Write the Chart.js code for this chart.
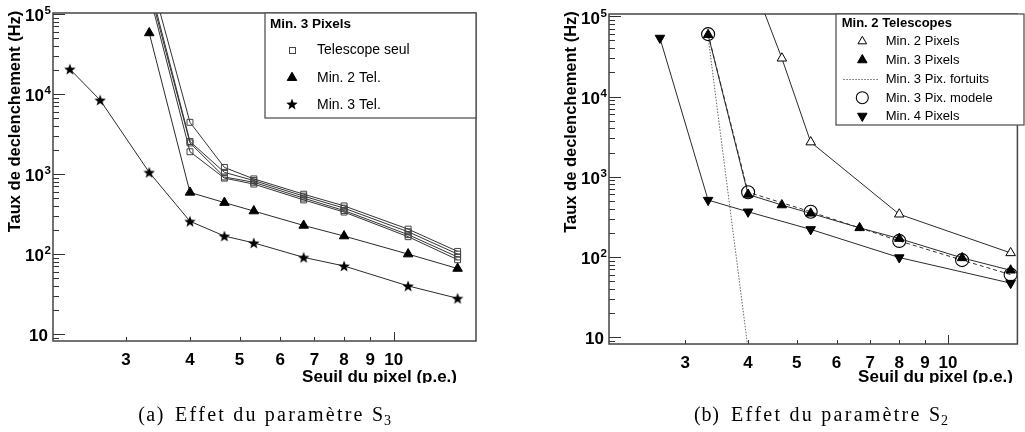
<!DOCTYPE html>
<html>
<head>
<meta charset="utf-8">
<title>Taux de declenchement</title>
<script src="https://cdn.jsdelivr.net/npm/chart.js@4/dist/chart.umd.min.js"></script>
<style>
  html, body { margin: 0; padding: 0; background: #fff; }
  #wrap { position: relative; width: 1025px; height: 432px; overflow: hidden; }
  canvas { position: absolute; top: 0; }
  #ca { left: 0; }
  #cb { left: 512px; }
</style>
</head>
<body>
<div id="wrap">
  <canvas id="ca" width="512" height="432"></canvas>
  <canvas id="cb" width="513" height="432"></canvas>
</div>
<script>
// ---------- axis ticks ----------
const xTickValues = [3, 4, 5, 6, 7, 8, 9, 10];
const yTickValues = [10, 100, 1000, 10000, 100000];

// ---------- panel (a): Min. 3 Pixels ----------
const aThrAll   = [2.33, 2.67, 3.33, 4, 4.67, 5.33, 6.67, 8, 10.67, 13.33];
const aThrFrom3 = [3.33, 4, 4.67, 5.33, 6.67, 8, 10.67, 13.33];
const aMin3Tel  = [20500, 8400, 1050, 257, 168, 138, 91, 71, 40, 28];
const aMin2Tel  = [58000, 590, 440, 345, 228, 168, 100, 66];
const aSeulA    = [330000, 4430, 1210, 870, 560, 400, 205, 108];
const aSeulB    = [240000, 2550, 1050, 830, 530, 375, 190, 100];
const aSeulC    = [210000, 2450, 920, 790, 500, 350, 175, 92];
const aSeulD    = [180000, 1900, 890, 750, 475, 335, 165, 85];
const aLegendTitle = 'Min. 3 Pixels';
const aLegend   = ['Telescope seul', 'Min. 2 Tel.', 'Min. 3 Tel.'];

// ---------- panel (b): Min. 2 Telescopes ----------
const bMin2PixX   = [4, 4.67, 5.33, 8, 13.33];
const bMin2Pix    = [380000, 30000, 2700, 340, 112];
const bMin3PixX   = [3.33, 4, 4.67, 5.33, 6.67, 8, 10.67, 13.33];
const bMin3Pix    = [59000, 600, 443, 349, 230, 169, 97, 68];
const bFortuitsX  = [3.33, 4];
const bFortuits   = [55000, 7];
const bModeleX    = [3.33, 4, 5.33, 8, 10.67, 13.33];
const bModele     = [60000, 640, 365, 158, 91, 60];
const bMin4PixX   = [2.67, 3.33, 4, 5.33, 8, 13.33];
const bMin4Pix    = [53700, 510, 365, 220, 98, 47];
const bLegendTitle = 'Min. 2 Telescopes';
const bLegend     = ['Min. 2 Pixels', 'Min. 3 Pixels', 'Min. 3 Pix. fortuits', 'Min. 3 Pix. modele', 'Min. 4 Pixels'];

const yTitle = 'Taux de declenchement (Hz)';
const xTitle = 'Seuil du pixel (p.e.)';
const captionA = ['(a)', 'Effet du paramètre S', '3'];
const captionB = ['(b)', 'Effet du paramètre S', '2'];

// ---------- helpers ----------
const SANS = "'Liberation Sans', Arial, Helvetica, sans-serif";
const SERIF = "'Liberation Serif', 'Times New Roman', serif";
const pts = (xs, ys) => xs.map((x, i) => ({ x, y: ys[i] }));

function starImage(size) {
  const c = document.createElement('canvas');
  c.width = c.height = size;
  const g = c.getContext('2d');
  const R = size / 2, r = R * 0.42, cx = size / 2, cy = size / 2 + 0.6;
  g.fillStyle = '#000';
  g.beginPath();
  for (let i = 0; i < 10; i++) {
    const ang = -Math.PI / 2 + i * Math.PI / 5;
    const rr = i % 2 ? r : R;
    g.lineTo(cx + rr * Math.cos(ang), cy + rr * Math.sin(ang));
  }
  g.closePath();
  g.fill();
  return c;
}
const STAR = starImage(12);

// legend marker shapes
function triPath(ctx, x, y, r, down) {
  const s = down ? -1 : 1;
  ctx.beginPath();
  ctx.moveTo(x, y - s * r);
  ctx.lineTo(x + r * 0.866, y + s * r * 0.5);
  ctx.lineTo(x - r * 0.866, y + s * r * 0.5);
  ctx.closePath();
}
function drawMark(ctx, kind, x, y) {
  ctx.save();
  ctx.lineWidth = 1;
  ctx.strokeStyle = '#000';
  ctx.fillStyle = '#000';
  switch (kind) {
    case 'square':
      ctx.strokeStyle = '#444';
      ctx.strokeRect(Math.round(x - 3) + 0.5, Math.round(y - 3) + 0.5, 6, 6);
      break;
    case 'tri':
      triPath(ctx, x, y, 5.5, false); ctx.fill(); ctx.stroke();
      break;
    case 'triOpen':
      triPath(ctx, x, y, 5, false); ctx.fillStyle = '#fff'; ctx.fill(); ctx.stroke();
      break;
    case 'triDown':
      triPath(ctx, x, y, 5.5, true); ctx.fill(); ctx.stroke();
      break;
    case 'star':
      ctx.drawImage(STAR, Math.round(x - 6), Math.round(y - 6));
      break;
    case 'circle':
      ctx.beginPath(); ctx.arc(x, y, 6, 0, Math.PI * 2); ctx.lineWidth = 1.1; ctx.stroke();
      break;
    case 'dotted':
      ctx.strokeStyle = '#666';
      ctx.setLineDash([1.5, 1.5]);
      ctx.beginPath(); ctx.moveTo(x - 19, Math.round(y) + 0.5); ctx.lineTo(x + 17, Math.round(y) + 0.5); ctx.stroke();
      break;
  }
  ctx.restore();
}

// draws s so that it spans x0..x1, spreading the letters evenly
function spacedText(ctx, s, x0, x1, y) {
  const chars = [...s];
  const ws = chars.map(ch => ctx.measureText(ch).width);
  const nat = ws.reduce((p, c) => p + c, 0);
  const sp = chars.length > 1 ? Math.max(0, (x1 - x0 - nat) / (chars.length - 1)) : 0;
  let x = x0;
  chars.forEach((ch, i) => { ctx.fillText(ch, x, y); x += ws[i] + sp; });
}

// frame, inward ticks, decade labels, titles, legend box and caption
const deco = {
  id: 'deco',
  afterDraw(chart, args, o) {
    const ctx = chart.ctx, a = chart.chartArea;
    const xs = chart.scales.x, ys = chart.scales.y;
    ctx.save();

    // y ticks: decades long, 2..9 short, pointing into the plot
    ctx.strokeStyle = '#333';
    ctx.lineWidth = 1;
    ctx.beginPath();
    for (let d = 1; d <= 1e6; d *= 10) {
      for (let m = 1; m <= 9; m++) {
        const v = m * d;
        if (v < ys.min || v > ys.max) continue;
        const y = Math.round(ys.getPixelForValue(v)) + 0.5;
        const len = m === 1 ? 12 : 6;
        ctx.moveTo(a.left, y); ctx.lineTo(a.left + len, y);
      }
    }
    // x ticks
    xTickValues.forEach(v => {
      const x = Math.round(xs.getPixelForValue(v)) + 0.5;
      const len = v === 10 ? 9 : 4;
      ctx.moveTo(x, a.bottom); ctx.lineTo(x, a.bottom - len);
    });
    ctx.stroke();

    // frame
    ctx.strokeStyle = '#444';
    ctx.lineWidth = 1.5;
    ctx.strokeRect(a.left, a.top, a.right - a.left, a.bottom - a.top);

    // decade labels 10, 10^2 ... 10^5
    ctx.fillStyle = '#000';
    ctx.textBaseline = 'middle';
    ys.ticks.forEach(t => {
      const y = ys.getPixelForValue(t.value);
      const e = Math.round(Math.log10(t.value));
      ctx.font = 'bold 17px ' + SANS;
      ctx.textAlign = 'right';
      if (e === 1) {
        ctx.fillText('10', a.left - 5, y + 2);
      } else {
        ctx.fillText('10', a.left - 9, y + 2.5);
        ctx.font = 'bold 11.5px ' + SANS;
        ctx.textAlign = 'left';
        ctx.fillText(String(e), a.left - 8.5, y - 3);
      }
    });

    // y title
    ctx.font = 'bold 16.5px ' + SANS;
    ctx.textAlign = 'center';
    ctx.textBaseline = 'middle';
    ctx.save();
    ctx.translate(a.left - 38, o.yTitleY);
    ctx.rotate(-Math.PI / 2);
    ctx.fillText(yTitle, 0, 0);
    ctx.restore();

    // x title (bottom edge clipped as in the printed figure)
    ctx.save();
    ctx.beginPath();
    ctx.rect(0, 0, chart.width, 383);
    ctx.clip();
    ctx.font = 'bold 17px ' + SANS;
    ctx.textAlign = 'right';
    ctx.textBaseline = 'alphabetic';
    ctx.fillText(xTitle, o.xTitleRight, 381.5);
    ctx.restore();

    // legend
    const L = o.legend;
    ctx.fillStyle = '#fff';
    ctx.fillRect(L.x0, L.y0, L.x1 - L.x0, L.y1 - L.y0);
    ctx.strokeStyle = '#555';
    ctx.lineWidth = 1.3;
    ctx.strokeRect(L.x0, L.y0, L.x1 - L.x0, L.y1 - L.y0);
    ctx.fillStyle = '#000';
    ctx.textAlign = 'left';
    ctx.textBaseline = 'middle';
    ctx.font = 'bold ' + L.titleSize + 'px ' + SANS;
    ctx.fillText(L.title, L.titleX, L.titleY);
    ctx.font = L.textSize + 'px ' + SANS;
    L.items.forEach((it, i) => {
      drawMark(ctx, it.mark, L.markX, L.ys[i]);
      ctx.fillStyle = '#000';
      ctx.fillText(it.label, L.textX, L.ys[i] + 0.5);
    });

    // caption
    const C = o.caption;
    ctx.fillStyle = '#000';
    ctx.textAlign = 'left';
    ctx.textBaseline = 'alphabetic';
    ctx.font = '20px ' + SERIF;
    spacedText(ctx, C.text[0], C.lab0, C.lab1, 421);
    spacedText(ctx, C.text[1], C.main0, C.main1, 421);
    ctx.font = '14px ' + SERIF;
    ctx.fillText(C.text[2], C.main1 + 1, 425);

    ctx.restore();
  }
};

function makeOptions(p) {
  return {
    responsive: false,
    animation: false,
    devicePixelRatio: 1,
    layout: { padding: p.pad },
    plugins: {
      legend: { display: false },
      tooltip: { enabled: false },
      deco: p.deco
    },
    scales: {
      x: {
        type: 'logarithmic',
        min: p.xmin, max: p.xmax,
        afterBuildTicks(s) { s.ticks = xTickValues.map(v => ({ value: v })); },
        afterFit(s) { s.height = 30; },
        grid: { display: false, drawTicks: false },
        border: { display: false },
        ticks: {
          autoSkip: false, maxRotation: 0, padding: 9,
          color: '#000',
          font: { family: SANS, weight: 'bold', size: 17 },
          callback: v => String(v)
        }
      },
      y: {
        type: 'logarithmic',
        min: p.ymin, max: p.ymax,
        afterBuildTicks(s) { s.ticks = yTickValues.map(v => ({ value: v })); },
        afterFit(s) { s.width = 53; },
        grid: { display: false, drawTicks: false },
        border: { display: false },
        ticks: { display: false }
      }
    }
  };
}

const LINE = '#2a2a2a';
function lineSet(label, data, extra) {
  return Object.assign({
    label, data, showLine: true, tension: 0,
    borderColor: LINE, borderWidth: 1,
    pointBorderColor: '#000', pointBackgroundColor: '#000',
    pointBorderWidth: 1, pointRadius: 5
  }, extra);
}
const squareStyle = {
  pointStyle: 'rect', pointRadius: 4.2,
  pointBackgroundColor: 'rgba(0,0,0,0)', pointBorderColor: '#444', borderColor: '#333'
};

// ---------- chart (a) ----------
new Chart(document.getElementById('ca'), {
  type: 'scatter',
  data: {
    datasets: [
      lineSet(aLegend[2], pts(aThrAll, aMin3Tel), { pointStyle: STAR, pointRadius: 6 }),
      lineSet(aLegend[1], pts(aThrFrom3, aMin2Tel), { pointStyle: 'triangle', pointRadius: 5.5 }),
      lineSet(aLegend[0], pts(aThrFrom3, aSeulA), squareStyle),
      lineSet(aLegend[0], pts(aThrFrom3, aSeulB), squareStyle),
      lineSet(aLegend[0], pts(aThrFrom3, aSeulC), squareStyle),
      lineSet(aLegend[0], pts(aThrFrom3, aSeulD), squareStyle)
    ]
  },
  options: makeOptions({
    pad: { left: 0, top: 13, right: 36, bottom: 61 },
    xmin: 2.16, xmax: 14.48, ymin: 8.2, ymax: 103000,
    deco: {
      yTitleY: 121.5,
      xTitleRight: 457,
      legend: {
        x0: 265, y0: 13, x1: 476, y1: 118,
        title: aLegendTitle, titleX: 270, titleY: 24, titleSize: 13.5,
        textSize: 14, markX: 292, textX: 317,
        ys: [50, 77.7, 104.3],
        items: [
          { label: aLegend[0], mark: 'square' },
          { label: aLegend[1], mark: 'tri' },
          { label: aLegend[2], mark: 'star' }
        ]
      },
      caption: { text: captionA, lab0: 138.3, lab1: 163.3, main0: 175, main1: 383 }
    }
  }),
  plugins: [deco]
});

// ---------- chart (b) ----------
new Chart(document.getElementById('cb'), {
  type: 'scatter',
  data: {
    datasets: [
      lineSet(bLegend[1], pts(bMin3PixX, bMin3Pix), { pointStyle: 'triangle', pointRadius: 5.5 }),
      lineSet(bLegend[4], pts(bMin4PixX, bMin4Pix), { pointStyle: 'triangle', pointRadius: 5.5, rotation: 180 }),
      lineSet(bLegend[0], pts(bMin2PixX, bMin2Pix), { pointStyle: 'triangle', pointRadius: 5.5, pointBackgroundColor: '#fff' }),
      lineSet(bLegend[3], pts(bModeleX, bModele), {
        pointStyle: 'circle', pointRadius: 6.5, pointBackgroundColor: 'rgba(0,0,0,0)',
        pointBorderWidth: 1.1, borderDash: [4, 3], borderColor: '#333'
      }),
      lineSet(bLegend[2], pts(bFortuitsX, bFortuits), {
        pointRadius: 0, borderDash: [1.5, 1.5], borderColor: '#666'
      })
    ]
  },
  options: makeOptions({
    pad: { left: 44, top: 14, right: 2, bottom: 58 },
    xmin: 2.114, xmax: 13.75, ymin: 8.18, ymax: 107000,
    deco: {
      yTitleY: 122,
      xTitleRight: 501,
      legend: {
        x0: 324, y0: 14, x1: 512, y1: 125,
        title: bLegendTitle, titleX: 329.7, titleY: 23.5, titleSize: 13,
        textSize: 13, markX: 350.3, textX: 373.7,
        ys: [41.3, 60, 79, 97.7, 116],
        items: [
          { label: bLegend[0], mark: 'triOpen' },
          { label: bLegend[1], mark: 'tri' },
          { label: bLegend[2], mark: 'dotted' },
          { label: bLegend[3], mark: 'circle' },
          { label: bLegend[4], mark: 'triDown' }
        ]
      },
      caption: { text: captionB, lab0: 182, lab1: 207, main0: 219, main1: 428 }
    }
  }),
  plugins: [deco]
});
</script>
</body>
</html>
